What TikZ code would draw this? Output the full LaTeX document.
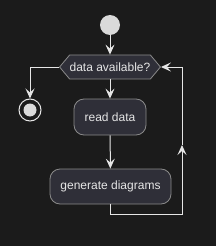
\documentclass[tikz,border=0pt]{standalone}
\usepackage{fontspec}
\setmainfont{Liberation Sans}
\usepackage{tikz}
\usetikzlibrary{arrows.meta,shapes.symbols}

\definecolor{bgdark}{HTML}{1B1B1B}
\definecolor{boxfill}{HTML}{2F2F38}
\definecolor{boxline}{HTML}{8A8A8A}
\definecolor{linecol}{HTML}{E6E6E6}

\begin{document}
\begin{tikzpicture}[
  x=1pt,y=-1pt,
  act/.style={draw=boxline,fill=boxfill,rounded corners=10pt,line width=.8pt,
              align=center,font=\fontsize{12}{14}\selectfont,text=linecol,inner sep=0pt},
  choice/.style={signal,signal to=west and east,signal pointer angle=100,
              draw=boxline,fill=boxfill,line width=.8pt,inner sep=0pt,
              font=\fontsize{12}{14}\selectfont,text=linecol},
  flow/.style={-{Stealth[length=10pt,width=9pt,inset=4pt]},draw=linecol,line width=1pt},
  plain/.style={draw=linecol,line width=1pt}
]
  \fill[bgdark] (0,0) rectangle (216,246);
  \useasboundingbox (0,0) rectangle (216,246);

  \node[circle,fill=linecol!95!black,minimum size=20pt,inner sep=0pt] (start) at (110,25) {};
  \node[choice,minimum width=95pt,minimum height=24pt] (avail) at (110,67) {data available?};
  \node[circle,draw=linecol,line width=1pt,minimum size=22pt,inner sep=0pt,
        path picture={\fill[linecol!95!black] (path picture bounding box.center) circle (6.5pt);}]
        (stop) at (30,110) {};
  \node[act,minimum width=72pt,minimum height=36pt] (read) at (110,117) {read data};
  \node[act,minimum width=121pt,minimum height=35pt] (gen) at (110.5,186.5) {generate diagrams};

  \coordinate (turn) at (182,214);
  \coordinate (back) at (182,145);

  \draw[flow] (start) -- (avail.north);
  \draw[flow] (avail.west) -| (stop.north);
  \draw[flow] (avail.south) -- (read.north);
  \draw[flow] (read) -- (gen);
  \draw[flow] (gen.south) |- (turn) -- (back);
  \draw[flow] (back) |- (avail.east);
\end{tikzpicture}
\end{document}
